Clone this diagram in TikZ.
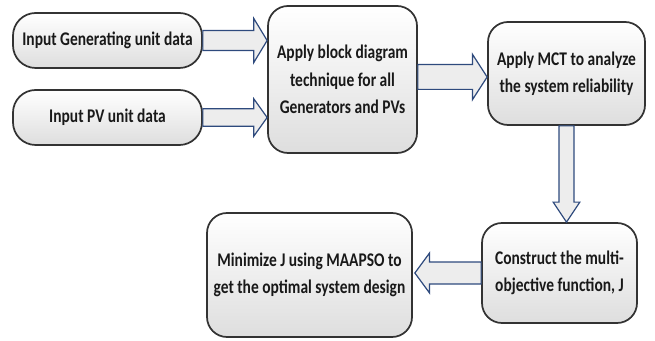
\documentclass[tikz,border=0pt]{standalone}
\usepackage{fontspec}
\setmainfont{Carlito}[FakeStretch=0.8]
\usetikzlibrary{calc}
\definecolor{arrowline}{HTML}{2E4A7D}
\definecolor{arrowfill}{HTML}{EDEDED}
\definecolor{boxline}{HTML}{333333}
\tikzset{
  flowbox/.style={draw=boxline, line width=1.3pt, rounded corners=15pt,
    top color=white, bottom color=black!13, align=center,
    font=\fontsize{14.5pt}{20.5pt}\selectfont\bfseries, text=black!90,
    inner sep=0pt},
  barrow/.style={draw=arrowline, fill=arrowfill, line width=0.9pt, line join=miter}
}
% #1 start, #2 tip, #3 shaft half width, #4 head half width, #5 head length
\newcommand\blockarrow[5]{%
  \path ($(#2)!#5!(#1)$) coordinate (hb);
  \draw[barrow] ($(#1)!#3!90:(#2)$) -- ($(hb)!#3!-90:(#1)$) -- ($(hb)!#4!-90:(#1)$)
    -- (#2) -- ($(hb)!#4!90:(#1)$) -- ($(hb)!#3!90:(#1)$) -- ($(#1)!#3!-90:(#2)$) -- cycle;
}
\begin{document}
\begin{tikzpicture}[x=0.75pt,y=-0.75pt]
\useasboundingbox (0,0) rectangle (655,341);
\node[flowbox, rounded corners=17pt, minimum width=141.75pt, minimum height=41.25pt] (g) at (107.5,40.5) {Input Generating unit data};
\node[flowbox, rounded corners=17pt, minimum width=141.75pt, minimum height=41.25pt] (p) at (107.5,117.5) {Input PV unit data};
\node[flowbox, minimum width=111.75pt, minimum height=110.25pt] (b) at (342.5,79.5) {Apply block diagram\\technique for all\\Generators and PVs};
\node[flowbox, minimum width=117.75pt, minimum height=77.25pt] (m) at (566.5,73.5) {Apply MCT to analyze\\the system reliability};
\node[flowbox, minimum width=116.25pt, minimum height=75pt] (c) at (559.5,273) {Construct the multi-\\objective function, J};
\node[flowbox, minimum width=153.75pt, minimum height=93pt] (n) at (309.5,275) {Minimize J using MAAPSO to\\get the optimal system design};
\coordinate (a1s) at (g.east);
\coordinate (a1e) at (b.west |- g.east);
\coordinate (a2s) at (p.east);
\coordinate (a2e) at (b.west |- p.east);
\coordinate (a3s) at ($(b.east)+(0,-2.5)$);
\coordinate (a3e) at (m.west |- a3s);
\coordinate (a4s) at (m.south);
\coordinate (a4e) at (m.south |- c.north);
\coordinate (a5s) at (c.west);
\coordinate (a5e) at ($(n.east |- c.west)+(2,0)$);
\blockarrow{a1s}{a1e}{7.5pt}{16.5pt}{10pt}
\blockarrow{a2s}{a2e}{6.5pt}{14pt}{10pt}
\blockarrow{a3s}{a3e}{9.3pt}{17pt}{11pt}
\blockarrow{a4s}{a4e}{5.6pt}{10pt}{15pt}
\blockarrow{a5s}{a5e}{8.2pt}{15pt}{11pt}
\end{tikzpicture}
\end{document}
